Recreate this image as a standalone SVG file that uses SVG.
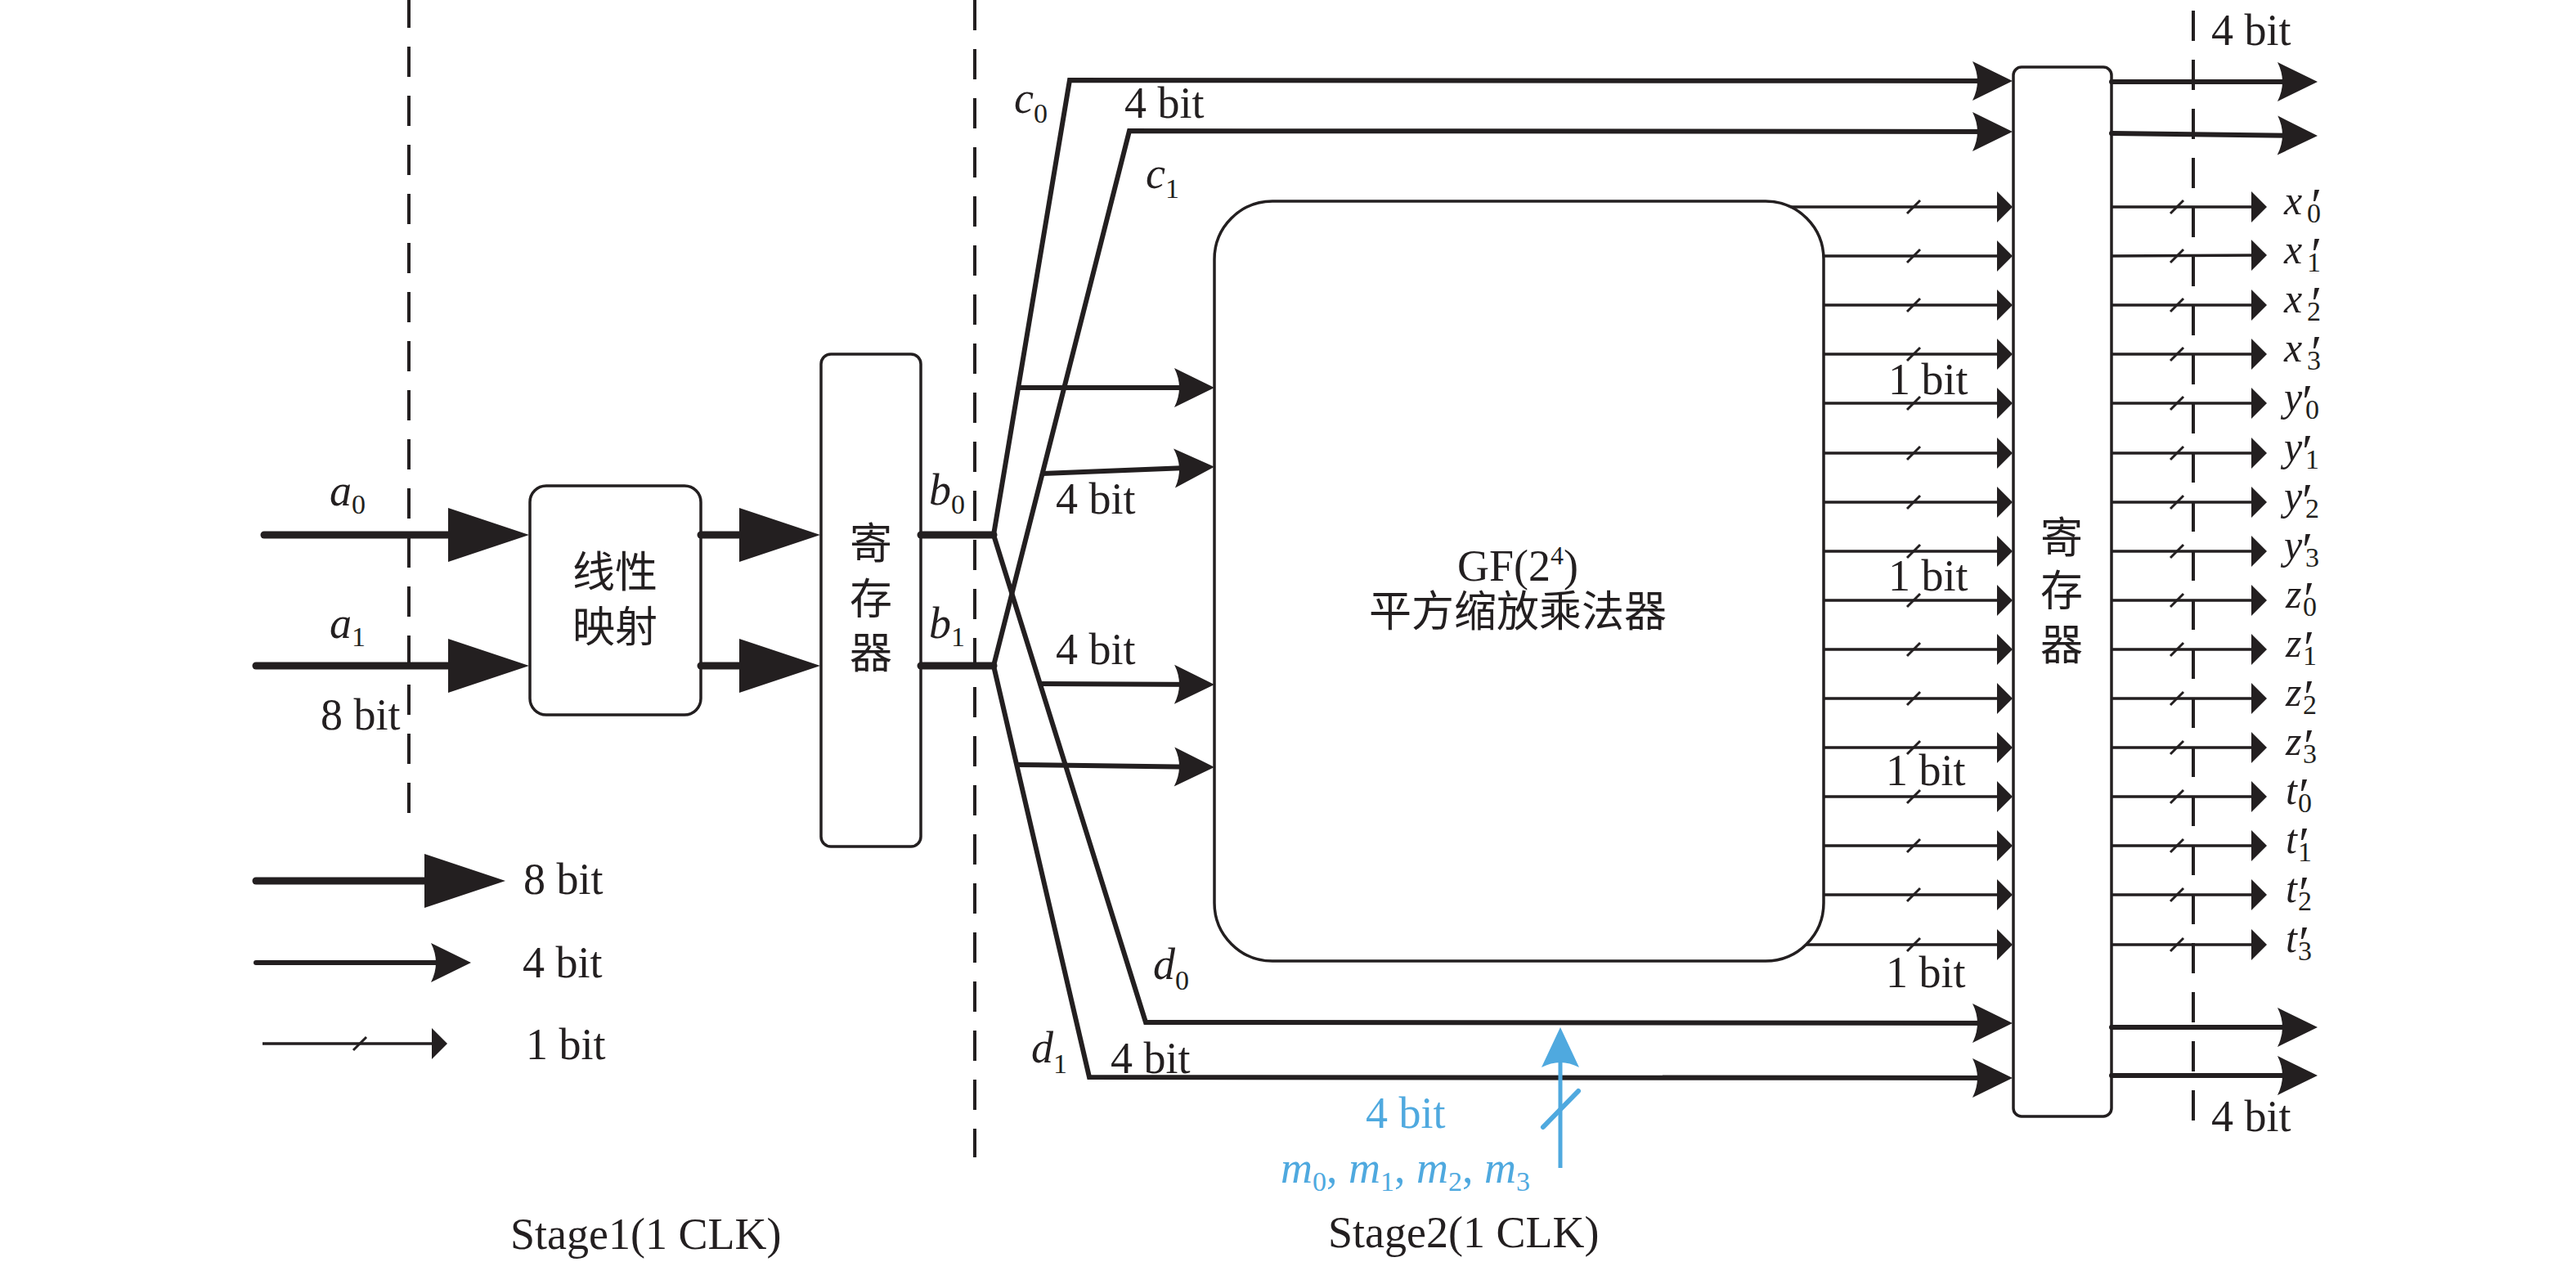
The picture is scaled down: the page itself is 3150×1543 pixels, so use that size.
<svg xmlns="http://www.w3.org/2000/svg" width="3150" height="1543" viewBox="0 0 3150 1543">
<defs>
<style>
.t{font-family:"Liberation Serif","Noto Sans CJK SC",serif;font-size:54px;fill:#231f20}
.i{font-style:italic}
.s{font-size:34px;font-style:normal}
.o{font-family:"Liberation Serif",serif;font-size:50px;font-style:italic;fill:#231f20}
.pr{font-size:60px;font-style:normal}
.cn{font-family:"Liberation Serif","Noto Sans CJK SC",serif;font-size:52px;fill:#231f20}
.blue{fill:#4fa9df}
.box{fill:#fff;stroke:#231f20;stroke-width:3.5}
.w8{stroke:#231f20;stroke-width:9;fill:none;stroke-linecap:round}
.w4{stroke:#231f20;stroke-width:6;fill:none;stroke-linejoin:miter}
.w1{stroke:#231f20;stroke-width:3.5;fill:none}
.sl{stroke:#231f20;stroke-width:3;fill:none}
.dash{stroke:#231f20;stroke-width:4;stroke-dasharray:37 23;fill:none}
</style>
<marker id="m8" markerUnits="userSpaceOnUse" markerWidth="100" markerHeight="70" refX="80" refY="0" orient="auto" overflow="visible"><path d="M0,-33 L99,0 L0,33 Z" fill="#231f20"/></marker>
<marker id="m4" markerUnits="userSpaceOnUse" markerWidth="50" markerHeight="50" refX="40" refY="0" orient="auto" overflow="visible"><path d="M49,0 L0,24 Q12,0 0,-24 Z" fill="#231f20"/></marker>
<marker id="mb" markerUnits="userSpaceOnUse" markerWidth="50" markerHeight="50" refX="40" refY="0" orient="auto" overflow="visible"><path d="M49,0 L0,23 Q12,0 0,-23 Z" fill="#4fa9df"/></marker>
<marker id="m1" markerUnits="userSpaceOnUse" markerWidth="20" markerHeight="40" refX="12" refY="0" orient="auto" overflow="visible"><path d="M0,-19 L19,0 L0,19 Z" fill="#231f20"/></marker>
<path id="slash" d="M-8,8 L8,-8"/>
</defs>
<rect width="3150" height="1543" fill="#fff"/>

<g id="stage-dividers">
<line class="dash" x1="500" y1="-3" x2="500" y2="1008"/>
<line class="dash" x1="1192" y1="0" x2="1192" y2="1415"/>
<line class="dash" x1="2682" y1="13" x2="2682" y2="1383"/>
</g>

<g id="linear-map">
<rect class="box" x="648" y="594" width="209" height="280" rx="20"/>
<text class="cn" x="752" y="718" text-anchor="middle">线性</text>
<text class="cn" x="752" y="785" text-anchor="middle">映射</text>
</g>

<g id="register1">
<rect class="box" x="1004" y="433" width="122" height="602" rx="12"/>
<text class="cn" x="1065" y="683" text-anchor="middle">寄</text>
<text class="cn" x="1065" y="751" text-anchor="middle">存</text>
<text class="cn" x="1065" y="817" text-anchor="middle">器</text>
</g>

<g id="gf-multiplier">
<rect class="box" x="1485" y="246" width="745" height="929" rx="71"/>
<text class="t" x="1856" y="710" text-anchor="middle">GF(2<tspan font-size="32" dy="-20">4</tspan><tspan dy="20">)</tspan></text>
<text class="cn" x="1856" y="766" text-anchor="middle" font-size="54">平方缩放乘法器</text>
</g>

<g id="register2">
<rect class="box" x="2462" y="82" width="120" height="1283" rx="10"/>
<text class="cn" x="2521" y="676" text-anchor="middle">寄</text>
<text class="cn" x="2521" y="741" text-anchor="middle">存</text>
<text class="cn" x="2521" y="807" text-anchor="middle">器</text>
</g>

<g id="connectors">
<line class="w8" x1="323" y1="654" x2="628" y2="654" marker-end="url(#m8)"/>
<line class="w8" x1="313" y1="814" x2="628" y2="814" marker-end="url(#m8)"/>
<line class="w8" x1="857" y1="654" x2="984" y2="654" marker-end="url(#m8)"/>
<line class="w8" x1="857" y1="814" x2="984" y2="814" marker-end="url(#m8)"/>
<line class="w8" x1="1126" y1="654" x2="1215" y2="654" stroke-linecap="butt"/>
<line class="w8" x1="1126" y1="814" x2="1215" y2="814" stroke-linecap="butt"/>
<path class="w4" d="M1215,654 L1308,98 L2452,99" marker-end="url(#m4)"/>
<path class="w4" d="M1215,814 L1381,160 L2452,161" marker-end="url(#m4)"/>
<path class="w4" d="M1215,654 L1401,1250 L2452,1251" marker-end="url(#m4)"/>
<path class="w4" d="M1215,814 L1332,1317 L2452,1318" marker-end="url(#m4)"/>
<line class="w4" x1="1246" y1="474" x2="1476" y2="474" marker-end="url(#m4)"/>
<line class="w4" x1="1275" y1="579" x2="1476" y2="571" marker-end="url(#m4)"/>
<line class="w4" x1="1272" y1="836" x2="1476" y2="837" marker-end="url(#m4)"/>
<line class="w4" x1="1243" y1="935" x2="1476" y2="938" marker-end="url(#m4)"/>
<line class="w4" x1="2582" y1="100" x2="2825" y2="100" stroke-linecap="round" marker-end="url(#m4)"/>
<line class="w4" x1="2582" y1="163" x2="2825" y2="166" stroke-linecap="round" marker-end="url(#m4)"/>
<line class="w4" x1="2582" y1="1256" x2="2825" y2="1256" stroke-linecap="round" marker-end="url(#m4)"/>
<line class="w4" x1="2582" y1="1315" x2="2825" y2="1315" stroke-linecap="round" marker-end="url(#m4)"/>
<line x1="1908" y1="1428" x2="1908" y2="1265" stroke="#4fa9df" stroke-width="5" marker-end="url(#mb)"/>
<line x1="1887" y1="1378" x2="1930" y2="1334" stroke="#4fa9df" stroke-width="6" stroke-linecap="round"/>
<g id="rows-in">
<line class="w1" x1="2190" y1="253" x2="2454" y2="253" marker-end="url(#m1)"/>
<line class="w1" x1="2230" y1="313" x2="2454" y2="313" marker-end="url(#m1)"/>
<line class="w1" x1="2230" y1="373" x2="2454" y2="373" marker-end="url(#m1)"/>
<line class="w1" x1="2230" y1="433" x2="2454" y2="433" marker-end="url(#m1)"/>
<line class="w1" x1="2230" y1="493" x2="2454" y2="493" marker-end="url(#m1)"/>
<line class="w1" x1="2230" y1="554" x2="2454" y2="554" marker-end="url(#m1)"/>
<line class="w1" x1="2230" y1="614" x2="2454" y2="614" marker-end="url(#m1)"/>
<line class="w1" x1="2230" y1="674" x2="2454" y2="674" marker-end="url(#m1)"/>
<line class="w1" x1="2230" y1="734" x2="2454" y2="734" marker-end="url(#m1)"/>
<line class="w1" x1="2230" y1="794" x2="2454" y2="794" marker-end="url(#m1)"/>
<line class="w1" x1="2230" y1="854" x2="2454" y2="854" marker-end="url(#m1)"/>
<line class="w1" x1="2230" y1="914" x2="2454" y2="914" marker-end="url(#m1)"/>
<line class="w1" x1="2230" y1="974" x2="2454" y2="974" marker-end="url(#m1)"/>
<line class="w1" x1="2230" y1="1034" x2="2454" y2="1034" marker-end="url(#m1)"/>
<line class="w1" x1="2230" y1="1094" x2="2454" y2="1094" marker-end="url(#m1)"/>
<line class="w1" x1="2209" y1="1155" x2="2454" y2="1155" marker-end="url(#m1)"/>
</g>
<g id="rows-out">
<line class="w1" x1="2582" y1="253" x2="2765" y2="253" marker-end="url(#m1)"/>
<line class="w1" x1="2582" y1="313" x2="2765" y2="312" marker-end="url(#m1)"/>
<line class="w1" x1="2582" y1="373" x2="2765" y2="373" marker-end="url(#m1)"/>
<line class="w1" x1="2582" y1="433" x2="2765" y2="433" marker-end="url(#m1)"/>
<line class="w1" x1="2582" y1="493" x2="2765" y2="493" marker-end="url(#m1)"/>
<line class="w1" x1="2582" y1="554" x2="2765" y2="554" marker-end="url(#m1)"/>
<line class="w1" x1="2582" y1="614" x2="2765" y2="614" marker-end="url(#m1)"/>
<line class="w1" x1="2582" y1="674" x2="2765" y2="674" marker-end="url(#m1)"/>
<line class="w1" x1="2582" y1="734" x2="2765" y2="734" marker-end="url(#m1)"/>
<line class="w1" x1="2582" y1="794" x2="2765" y2="794" marker-end="url(#m1)"/>
<line class="w1" x1="2582" y1="854" x2="2765" y2="854" marker-end="url(#m1)"/>
<line class="w1" x1="2582" y1="914" x2="2765" y2="914" marker-end="url(#m1)"/>
<line class="w1" x1="2582" y1="974" x2="2765" y2="974" marker-end="url(#m1)"/>
<line class="w1" x1="2582" y1="1034" x2="2765" y2="1034" marker-end="url(#m1)"/>
<line class="w1" x1="2582" y1="1094" x2="2765" y2="1094" marker-end="url(#m1)"/>
<line class="w1" x1="2582" y1="1155" x2="2765" y2="1155" marker-end="url(#m1)"/>
</g>
<g id="slashes" class="sl">
<use href="#slash" x="2340" y="253"/><use href="#slash" x="2340" y="313"/><use href="#slash" x="2340" y="373"/><use href="#slash" x="2340" y="433"/>
<use href="#slash" x="2340" y="493"/><use href="#slash" x="2340" y="554"/><use href="#slash" x="2340" y="614"/><use href="#slash" x="2340" y="674"/>
<use href="#slash" x="2340" y="734"/><use href="#slash" x="2340" y="794"/><use href="#slash" x="2340" y="854"/><use href="#slash" x="2340" y="914"/>
<use href="#slash" x="2340" y="974"/><use href="#slash" x="2340" y="1034"/><use href="#slash" x="2340" y="1094"/><use href="#slash" x="2340" y="1155"/>
<use href="#slash" x="2662" y="253"/><use href="#slash" x="2662" y="313"/><use href="#slash" x="2662" y="373"/><use href="#slash" x="2662" y="433"/>
<use href="#slash" x="2662" y="493"/><use href="#slash" x="2662" y="554"/><use href="#slash" x="2662" y="614"/><use href="#slash" x="2662" y="674"/>
<use href="#slash" x="2662" y="734"/><use href="#slash" x="2662" y="794"/><use href="#slash" x="2662" y="854"/><use href="#slash" x="2662" y="914"/>
<use href="#slash" x="2662" y="974"/><use href="#slash" x="2662" y="1034"/><use href="#slash" x="2662" y="1094"/><use href="#slash" x="2662" y="1155"/>
</g>
</g>

<g id="legend">
<line class="w8" x1="313" y1="1077" x2="599" y2="1077" marker-end="url(#m8)"/>
<line class="w4" x1="313" y1="1177" x2="567" y2="1177" stroke-linecap="round" marker-end="url(#m4)"/>
<line class="w1" x1="321" y1="1276" x2="540" y2="1276" marker-end="url(#m1)"/>
<use class="sl" href="#slash" x="440" y="1276"/>
<text class="t" x="640" y="1093">8 bit</text>
<text class="t" x="639" y="1195">4 bit</text>
<text class="t" x="643" y="1295">1 bit</text>
</g>

<g id="labels">
<text class="t i" x="403" y="618">a<tspan class="s" dy="10">0</tspan></text>
<text class="t i" x="403" y="780">a<tspan class="s" dy="10">1</tspan></text>
<text class="t" x="392" y="892">8 bit</text>
<text class="t i" x="1136" y="617">b<tspan class="s" dy="11">0</tspan></text>
<text class="t i" x="1136" y="780">b<tspan class="s" dy="10">1</tspan></text>
<text class="t i" x="1240" y="138">c<tspan class="s" dy="12">0</tspan></text>
<text class="t i" x="1401" y="230">c<tspan class="s" dy="12">1</tspan></text>
<text class="t i" x="1410" y="1197">d<tspan class="s" dy="13">0</tspan></text>
<text class="t i" x="1261" y="1299">d<tspan class="s" dy="13">1</tspan></text>
<text class="t" x="1375" y="144">4 bit</text>
<text class="t" x="1291" y="628">4 bit</text>
<text class="t" x="1291" y="812">4 bit</text>
<text class="t" x="1358" y="1312">4 bit</text>
<text class="t" x="2704" y="55">4 bit</text>
<text class="t" x="2704" y="1383">4 bit</text>
<text class="t" x="2309" y="482">1 bit</text>
<text class="t" x="2309" y="722">1 bit</text>
<text class="t" x="2306" y="960">1 bit</text>
<text class="t" x="2306" y="1207">1 bit</text>
<text class="t blue" x="1670" y="1379">4 bit</text>
<text class="t i blue" x="1566" y="1446">m<tspan class="s" dy="10">0</tspan><tspan font-style="normal" dy="-10">, </tspan>m<tspan class="s" dy="10">1</tspan><tspan font-style="normal" dy="-10">, </tspan>m<tspan class="s" dy="10">2</tspan><tspan font-style="normal" dy="-10">, </tspan>m<tspan class="s" dy="10">3</tspan></text>
<text class="t" x="624" y="1527">Stage1(1 CLK)</text>
<text class="t" x="1624" y="1525">Stage2(1 CLK)</text>
</g>

<g id="output-labels">
<text class="o" x="2793" y="262">x<tspan class="pr" x="2826" y="271">′</tspan><tspan class="s" x="2821" y="272">0</tspan></text>
<text class="o" x="2793" y="322">x<tspan class="pr" x="2826" y="331">′</tspan><tspan class="s" x="2821" y="332">1</tspan></text>
<text class="o" x="2793" y="382">x<tspan class="pr" x="2826" y="391">′</tspan><tspan class="s" x="2821" y="392">2</tspan></text>
<text class="o" x="2793" y="442">x<tspan class="pr" x="2826" y="451">′</tspan><tspan class="s" x="2821" y="452">3</tspan></text>
<text class="o" x="2793" y="502">y<tspan class="pr" x="2815" y="511">′</tspan><tspan class="s" x="2819" y="512">0</tspan></text>
<text class="o" x="2793" y="563">y<tspan class="pr" x="2815" y="572">′</tspan><tspan class="s" x="2819" y="573">1</tspan></text>
<text class="o" x="2793" y="623">y<tspan class="pr" x="2815" y="632">′</tspan><tspan class="s" x="2819" y="633">2</tspan></text>
<text class="o" x="2793" y="683">y<tspan class="pr" x="2815" y="692">′</tspan><tspan class="s" x="2819" y="693">3</tspan></text>
<text class="o" x="2795" y="743">z<tspan class="pr" x="2817" y="752">′</tspan><tspan class="s" x="2816" y="753">0</tspan></text>
<text class="o" x="2795" y="803">z<tspan class="pr" x="2817" y="812">′</tspan><tspan class="s" x="2816" y="813">1</tspan></text>
<text class="o" x="2795" y="863">z<tspan class="pr" x="2817" y="872">′</tspan><tspan class="s" x="2816" y="873">2</tspan></text>
<text class="o" x="2795" y="923">z<tspan class="pr" x="2817" y="932">′</tspan><tspan class="s" x="2816" y="933">3</tspan></text>
<text class="o" x="2795" y="983">t<tspan class="pr" x="2811" y="992">′</tspan><tspan class="s" x="2810" y="993">0</tspan></text>
<text class="o" x="2795" y="1043">t<tspan class="pr" x="2811" y="1052">′</tspan><tspan class="s" x="2810" y="1053">1</tspan></text>
<text class="o" x="2795" y="1103">t<tspan class="pr" x="2811" y="1112">′</tspan><tspan class="s" x="2810" y="1113">2</tspan></text>
<text class="o" x="2795" y="1164">t<tspan class="pr" x="2811" y="1173">′</tspan><tspan class="s" x="2810" y="1174">3</tspan></text>
</g>
</svg>
